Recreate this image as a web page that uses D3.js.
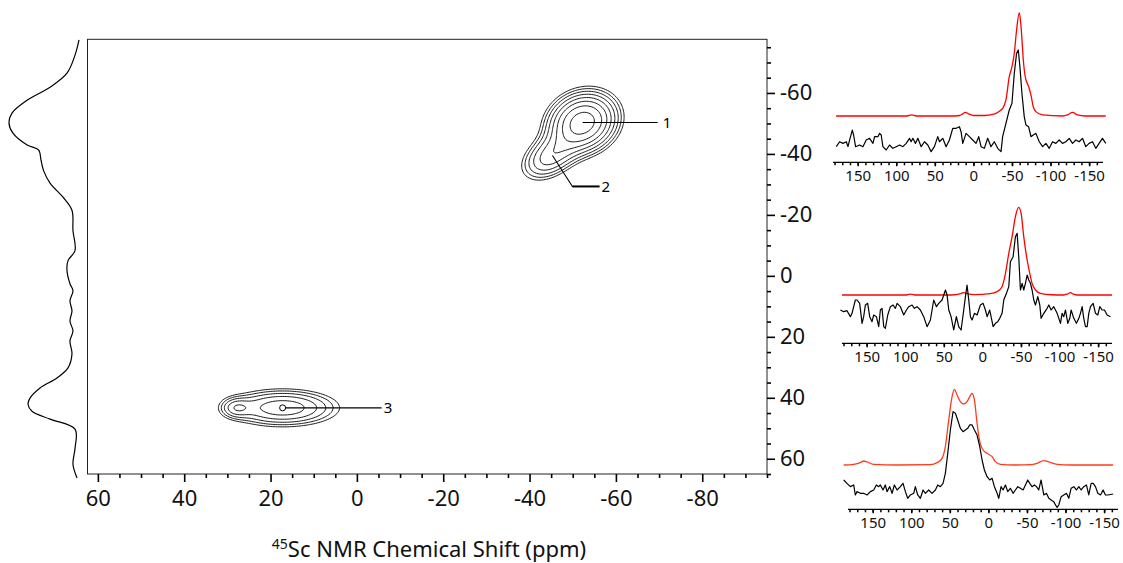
<!DOCTYPE html>
<html><head><meta charset="utf-8">
<script src="https://cdn.jsdelivr.net/npm/d3@7"></script>
<style>
html,body{margin:0;padding:0;background:#fff;}
svg{display:block;font-family:"Noto Sans","Open Sans",sans-serif;}
</style></head><body>
<svg id="chart" width="1123" height="563"></svg>
<script>
// ---------- data ----------
const f2TickValues = [60, 40, 20, 0, -20, -40, -60, -80];
const f1TickValues = [-60, -40, -20, 0, 20, 40, 60];
const sliceTickValues = [150, 100, 50, 0, -50, -100, -150];

// 2D peak components: [F2 ppm, F1 ppm, width F2, width F1, correlation, amplitude]
const peakComponents = [
  [-52.3, -50.3, 4.34, 5.4, 0.15, 1.15],
  [-44.8, -39.2, 3.9, 4.6, 0.4, 0.42],
  [17.2, 43.3, 7.6, 3.6, 0, 0.45],
  [28.0, 43.3, 2.1, 2.0, 0, 0.22]
];
const contourLevels = [0.1, 0.138, 0.19, 0.263, 0.363, 0.5, 0.69, 0.95];

const siteNames = ["1", "2", "3"];
const sitePeaks = [[-52.3, -50.3], [-45.3, -39.5], [17.2, 43.3]];

// F1 projection: [F1 ppm, intensity]
const f1Projection = [
  [-77.4,0],[-72.4,5.6],[-66.5,16.9],[-61.9,40.8],[-57.6,73.2],[-53.4,94.4],[-50.1,98.6],
  [-46.8,93.0],[-42.9,73],[-41.3,57],[-38.0,53.5],[-34.6,50],[-30.4,40.8],[-25.8,22.5],
  [-21.5,9.9],[-14.9,8.5],[-8.3,5.6],[-5.0,15.5],[-1.7,16.9],[2.6,12.7],[4.9,8.5],[8.2,12.7],
  [11.5,9.9],[14.8,12.7],[18.1,8.5],[21.3,12.7],[25.6,9.9],[30.2,15.5],[33.5,31.0],[36.8,54.9],
  [40.1,69.0],[42.1,71.8],[44.4,66.2],[47.0,40.8],[50.3,5.6],[56.6,5.6],[61.8,8.5],[66.3,2.8]
];

// F2 slices: [ppm, intensity]; simulated (red) and experimental (black)
const slice1Sim = [
  [178,0],[120,0],[86,0],[80,1],[74,0],[30,0],[18,0.5],[14,2],[10.4,3.5],[6,2],[0,0.5],[-15,0.5],
  [-25,1.5],[-29.3,2.6],[-35.8,5.8],[-37.9,7.4],[-42.2,15.5],[-46.5,38],[-50,47.7],[-53,60.7],
  [-56,83.3],[-59.5,100],[-62.1,83.3],[-64.7,54.2],[-67.2,38],[-71.6,28.4],[-74.6,20.3],[-77.6,9],
  [-81,4.2],[-89.7,1],[-115.5,0],[-122,1],[-128.5,3.5],[-135,1],[-145,0],[-171.6,0]
];
const slice1Exp = [
  [177.7,-29.7],[173.4,-24.9],[169.1,-26.5],[164.7,-24.9],[162.6,-29.7],[160.4,-23.2],[157,-13.6],
  [155.3,-18.4],[152.7,-29.7],[147.5,-28.1],[143.2,-29.7],[138.9,-23.2],[134.6,-21.6],[130.2,-26.5],
  [128.1,-20],[123.8,-20],[121.6,-16.8],[119.5,-18.4],[117.3,-29.7],[113,-32.9],[108.7,-28.1],
  [104.4,-31.3],[100.1,-29.7],[95.7,-28.1],[91.4,-29.7],[87.1,-26.5],[82.8,-21.6],[80.7,-24.9],
  [78.5,-21.6],[75.1,-26.5],[72,-21.6],[67.7,-29.7],[63.4,-24.9],[59.1,-28.1],[54.8,-34.5],
  [50.5,-29.7],[46.2,-20],[44,-24.9],[39.7,-21.6],[35.4,-29.7],[31.1,-23.2],[26.8,-11.9],
  [22.4,-11.9],[18.1,-10.4],[16,-15.2],[13.8,-26.5],[9.5,-16.8],[5.2,-20],[0.9,-23.2],[-3.4,-26.5],
  [-6.9,-20],[-9.9,-29.7],[-14.2,-31.3],[-18.5,-21.6],[-22.8,-29.7],[-27.1,-24.9],[-31.5,-31.3],
  [-35.8,-34.5],[-37.9,-20],[-42.2,-7.1],[-46.5,5.8],[-50,12.3],[-53,41.3],[-56,60.7],[-58.2,63.9],
  [-60.3,47.7],[-62.9,22],[-65.9,-0.6],[-68.1,-8.7],[-71.6,-10.4],[-74.6,-20],[-77.6,-18.4],
  [-81,-16.8],[-85.4,-24.9],[-89.7,-29.7],[-94,-26.5],[-98.3,-31.3],[-102.6,-24.9],[-106.9,-26.5],
  [-111.2,-23.2],[-115.5,-26.5],[-119.9,-24.9],[-124.2,-21.6],[-128.5,-26.5],[-132.8,-23.2],
  [-137.1,-24.9],[-141.4,-21.6],[-145.7,-29.7],[-150,-26.5],[-154.4,-24.9],[-158.7,-31.3],
  [-163,-26.5],[-167.3,-21.6],[-171.6,-26.5]
];
const slice2Sim = [
  [182,0],[100,0],[93.3,1.1],[86,0],[40,0],[28,1.5],[24.2,2.7],[20,1.5],[10,0.5],[-10,1.5],
  [-19,3.8],[-25.5,9.5],[-29.9,24.7],[-34.2,47.5],[-38.5,66.5],[-42.8,89.4],[-47.1,100],
  [-50.2,93.1],[-53.6,66.5],[-58,39.9],[-61.4,24.7],[-64.4,13.3],[-68.8,5.7],[-75.2,1.9],
  [-90,0.3],[-105.5,0],[-110,1],[-114.2,2.7],[-118,1],[-122.8,0],[-168,0]
];
const slice2Exp = [
  [184.1,-17.1],[179.8,-19],[175.5,-17.9],[171.2,-24.7],[169,-20.9],[164.7,-5.7],[162.5,-5.7],
  [159.1,-9.5],[156,-32.3],[153.9,-24.7],[151.7,-11.4],[148.7,-9.5],[146.1,-24.7],[143.1,-30.4],
  [140.9,-22.8],[137.4,-24.7],[134.4,-36.1],[132.3,-17.1],[130.1,-15.2],[127.9,-36.1],[125.8,-38],
  [122.7,-22.8],[119.3,-13.3],[115.8,-11.4],[112.8,-15.2],[110.6,-9.5],[106.3,-13.3],[102,-22.8],
  [98.5,-17.1],[95.5,-13.3],[91.2,-11.4],[88.2,-15.2],[84.7,-13.3],[80.4,-17.1],[76.1,-24.7],
  [71.7,-36.1],[67.4,-28.5],[63.1,-5.7],[59.6,-13.3],[56.6,-9.5],[52.3,-5.7],[47.9,5.7],[45.8,0],
  [43.6,-17.1],[40.6,-24.7],[37.2,-39.9],[33.7,-24.7],[30.7,-36.1],[27.6,-39.9],[24.2,-17.1],
  [22,-1.9],[19.9,11.4],[17.7,-5.7],[15.5,-24.7],[13.4,-28.5],[10.3,-20.9],[6.9,-22.8],[2.6,-11.4],
  [-0.9,-9.5],[-3.9,-17.1],[-6.1,-24.7],[-9.5,-17.1],[-13.9,-36.1],[-16.9,-32.3],[-19.9,-30.4],
  [-22.5,-26.6],[-25.5,-20.9],[-27.7,-5.7],[-31.2,1.9],[-34.2,9.5],[-36.3,38],[-39.8,43.7],
  [-42.8,66.5],[-45,70.3],[-47.1,43.7],[-49.3,5.7],[-51.5,13.3],[-53.6,5.7],[-55.8,13.3],[-58,22.8],
  [-60.1,17.1],[-62.3,13.3],[-64.4,5.7],[-66.6,-5.7],[-68.8,-11.4],[-71.8,-1.9],[-74.4,-11.4],
  [-76.1,-26.6],[-79.6,-20.9],[-83.9,-15.2],[-86.1,-11.4],[-89.1,-17.1],[-92.5,-13.3],[-96.9,-20.9],
  [-101.2,-32.3],[-103.3,-20.9],[-105.5,-24.7],[-107.7,-17.1],[-110.7,-32.3],[-113.3,-26.6],
  [-115,-17.1],[-118.5,-26.6],[-121.9,-32.3],[-125,-26.6],[-127.1,-20.9],[-129.3,-13.3],
  [-131.4,-26.6],[-133.6,-36.1],[-135.8,-36.1],[-137.9,-20.9],[-140.1,-13.3],[-143.6,-9.5],
  [-146.6,-20.9],[-149.6,-22.8],[-152.2,-13.3],[-155.2,-17.1],[-158.2,-17.1],[-161.7,-22.8],
  [-166,-24.7]
];
const slice3Sim = [
  [187.6,0],[174.6,0.9],[166,3.1],[161.7,5.3],[157.3,4],[148.7,0.9],[118.4,0],[75.2,0.4],[66.6,3.1],
  [60.1,8.8],[55.8,24.2],[51.4,59.5],[47.1,90.3],[44.1,100],[40.6,92.5],[36.3,83.7],[32,80.6],
  [27.7,83.7],[24.2,90.3],[21.2,94.7],[18.1,85.9],[14.7,55.1],[11.2,30.8],[6.9,19.8],[1.7,15.4],
  [-4.8,11],[-9.1,4.4],[-15.6,0.9],[-32.9,0],[-54.5,0.4],[-63.1,2.2],[-71.8,5.7],[-78.3,4],
  [-89.1,0.9],[-106.4,0],[-161.7,0]
];
const slice3Exp = [
  [187.6,-19.8],[183.3,-24.2],[179,-28.6],[174.6,-26.4],[172.5,-39.6],[170.3,-35.2],[166,-37.4],
  [161.7,-37.4],[157.3,-39.6],[153,-35.2],[148.7,-33],[145.2,-26.4],[142.2,-28.6],[140.1,-26.4],
  [136.6,-33],[133.6,-26.4],[131.4,-35.2],[127.9,-28.6],[124.9,-37.4],[121.9,-26.4],[118.4,-33],
  [114.1,-28.6],[110.7,-24.2],[107.6,-35.2],[104.6,-44],[101.1,-39.6],[96.8,-37.4],[94.7,-28.6],
  [91.6,-39.6],[88.2,-44],[84.7,-33],[81.7,-37.4],[77.4,-33],[73.1,-37.4],[68.7,-33],[65.7,-26.4],
  [62.3,-28.6],[58.8,-24.2],[55.8,-11],[52.7,15.4],[49.3,46.2],[45.8,70.5],[42.8,68.3],[39.8,59.5],
  [36.3,48.4],[32.8,44],[29.8,46.2],[26.8,48.4],[24.2,52.9],[21.2,52.9],[18.1,46.2],[14.7,39.6],
  [11.2,24.2],[8.2,6.6],[5.2,-6.6],[1.7,-15.4],[-1.7,-19.8],[-4.8,-17.6],[-7.8,-28.6],[-11.3,-37.4],
  [-13.4,-44],[-16.4,-28.6],[-19,-33],[-22.1,-26.4],[-25.1,-35.2],[-28.5,-30.8],[-32,-37.4],
  [-35,-33],[-38.1,-28.6],[-41.5,-30.8],[-45,-33],[-48,-26.4],[-51,-19.8],[-53.6,-24.2],
  [-56.6,-28.6],[-59.7,-26.4],[-62.3,-28.6],[-65.3,-33],[-68.3,-19.8],[-71.8,-39.6],[-75.2,-37.4],
  [-78.3,-44],[-81.3,-46.2],[-84.7,-48.4],[-86.9,-52.8],[-89.1,-55.9],[-91.2,-52.8],[-94.3,-41.8],
  [-97.7,-39.6],[-101.2,-37.4],[-104.2,-44],[-107.2,-30.8],[-110.7,-28.6],[-114.1,-33],
  [-117.2,-28.6],[-120.2,-33],[-123.6,-28.6],[-127.1,-26.4],[-130.1,-39.6],[-133.2,-24.2],
  [-135.8,-24.2],[-138.8,-28.6],[-141.8,-37.4],[-145.3,-39.6],[-148.7,-33],[-151.7,-39.6],
  [-154.8,-39.6],[-161.7,-38.3]
];

// ---------- layout ----------
const svg = d3.select("#chart");
const frame = {left: 87.5, right: 767, top: 39.3, bottom: 474};
const f2Domain = [62.4, -95];
const f1Domain = [-77.6, 65];
const x = d3.scaleLinear().domain(f2Domain).range([frame.left, frame.right]);
const y = d3.scaleLinear().domain(f1Domain).range([frame.top, frame.bottom]);
const fmt = d => String(d);

// ---------- contour field ----------
const step = 0.4;
const nx = Math.ceil((f2Domain[0] - f2Domain[1]) / step) + 1;
const ny = Math.ceil((f1Domain[1] - f1Domain[0]) / step) + 1;
const field = new Float64Array(nx * ny);
for (let j = 0; j < ny; j++) {
  const p1 = f1Domain[0] + j * step;
  for (let i = 0; i < nx; i++) {
    const p2 = f2Domain[0] - i * step;
    let s = 0;
    for (const [c2, c1, w2, w1, r, a] of peakComponents) {
      const u = (p2 - c2) / w2, v = (p1 - c1) / w1;
      s += a * Math.exp(-(u * u - 2 * r * u * v + v * v) / (2 * (1 - r * r)));
    }
    field[j * nx + i] = s;
  }
}
const contours = d3.contours().size([nx, ny]).thresholds(contourLevels)(field);
const gridToPlot = d3.geoTransform({
  point(gx, gy) {
    this.stream.point(x(f2Domain[0] - (gx - 0.5) * step), y(f1Domain[0] + (gy - 0.5) * step));
  }
});
const contourPath = d3.geoPath(gridToPlot);

const plot = svg.append("g");
plot.append("defs").append("clipPath").attr("id", "frameClip")
  .append("rect").attr("x", frame.left).attr("y", frame.top)
  .attr("width", frame.right - frame.left).attr("height", frame.bottom - frame.top);

plot.append("g").attr("clip-path", "url(#frameClip)")
  .selectAll("path").data(contours).join("path")
  .attr("d", contourPath)
  .attr("fill", "none").attr("stroke", "#000").attr("stroke-width", 0.9)
  .attr("stroke-linejoin", "round");

// frame
plot.append("rect").attr("x", frame.left).attr("y", frame.top)
  .attr("width", frame.right - frame.left).attr("height", frame.bottom - frame.top)
  .attr("fill", "none").attr("stroke", "#222").attr("stroke-width", 1);

// bottom axis (F2)
const f2Minor = d3.range(60, -95.01, -5).filter(v => !f2TickValues.includes(v));
const bottom = plot.append("g").attr("transform", `translate(0,${frame.bottom})`);
bottom.call(d3.axisBottom(x).tickValues(f2Minor).tickSize(4).tickFormat(""))
  .call(g => g.select(".domain").remove());
bottom.append("g").call(d3.axisBottom(x).tickValues(f2TickValues).tickSize(8).tickPadding(8).tickFormat(fmt))
  .call(g => g.select(".domain").remove());
bottom.selectAll("line").attr("stroke", "#000").attr("stroke-width", 1.6);
bottom.selectAll("text").attr("font-size", 22).attr("fill", "#111").attr("font-family", "Noto Sans");

// right axis (F1)
const f1Minor = d3.range(-75, 65.01, 5).filter(v => !f1TickValues.includes(v));
const right = plot.append("g").attr("transform", `translate(${frame.right},0)`);
right.call(d3.axisRight(y).tickValues(f1Minor).tickSize(4).tickFormat(""))
  .call(g => g.select(".domain").remove());
right.append("g").call(d3.axisRight(y).tickValues(f1TickValues).tickSize(8).tickPadding(5).tickFormat(fmt))
  .call(g => g.select(".domain").remove());
right.selectAll("line").attr("stroke", "#000").attr("stroke-width", 1.6);
right.selectAll("text").attr("font-size", 22).attr("fill", "#111").attr("font-family", "Noto Sans");

// axis title
const title = svg.append("text").attr("x", 429).attr("y", 557)
  .attr("text-anchor", "middle").attr("font-size", 22).attr("fill", "#111");
title.append("tspan").attr("font-size", 14).attr("dy", -8).text("45");
title.append("tspan").attr("dy", 8).text("Sc NMR Chemical Shift (ppm)");

// site labels with leader lines
const labels = svg.append("g").attr("stroke", "#000").attr("fill", "none");
{
  const [a2, a1] = sitePeaks[0];
  const px = x(a2), py = y(a1);
  labels.append("line").attr("x1", px).attr("y1", py).attr("x2", px + 75).attr("y2", py).attr("stroke-width", 1.1);
  svg.append("text").attr("x", px + 80).attr("y", py + 5.5).attr("font-size", 15).text(siteNames[0]);
}
{
  const [a2, a1] = sitePeaks[1];
  const px = x(a2), py = y(a1);
  labels.append("polyline")
    .attr("points", `${px},${py} ${px + 20},${py + 31} ${px + 47},${py + 31}`)
    .attr("stroke-width", 1.1);
  labels.append("line").attr("x1", px + 20).attr("y1", py + 31).attr("x2", px + 47).attr("y2", py + 31).attr("stroke-width", 2);
  svg.append("text").attr("x", px + 49).attr("y", py + 36.5).attr("font-size", 15).text(siteNames[1]);
}
{
  const [a2, a1] = sitePeaks[2];
  const px = x(a2), py = y(a1);
  labels.append("circle").attr("cx", px).attr("cy", py).attr("r", 3).attr("stroke-width", 1);
  labels.append("line").attr("x1", px + 3).attr("y1", py).attr("x2", px + 99).attr("y2", py).attr("stroke-width", 1.1);
  svg.append("text").attr("x", px + 101).attr("y", py + 5.5).attr("font-size", 15).text(siteNames[2]);
}

// ---------- F1 projection ----------
const projX = d3.scaleLinear().domain([0, 100]).range([79, 8]);
svg.append("path").datum(f1Projection)
  .attr("d", d3.line().x(d => projX(d[1])).y(d => y(d[0])).curve(d3.curveCatmullRom.alpha(0.5)))
  .attr("fill", "none").attr("stroke", "#000").attr("stroke-width", 1.2);

// ---------- F2 slices ----------
const slices = [
  {sim: slice1Sim, exp: slice1Exp, left: 833, base: 116, top: 12.7, axisY: 162.3, color: "#ff0000"},
  {sim: slice2Sim, exp: slice2Exp, left: 842, base: 295, top: 207.3, axisY: 343.3, color: "#ff0000"},
  {sim: slice3Sim, exp: slice3Exp, left: 848, base: 465, top: 389.3, axisY: 509.3, color: "#ff3a1c"}
];
const sliceDomain = [182, -168];
const sliceTicksMinor = d3.range(180, -168, -10);

slices.forEach(s => {
  const sx = d3.scaleLinear().domain(sliceDomain).range([s.left, s.left + 270]);
  const sy = d3.scaleLinear().domain([0, 100]).range([s.base, s.top]);
  const g = svg.append("g");
  g.append("path")
    .attr("d", d3.line().x(d => sx(d[0])).y(d => sy(d[1])).curve(d3.curveMonotoneX)(s.sim))
    .attr("fill", "none").attr("stroke", s.color).attr("stroke-width", 1.3);
  g.append("path")
    .attr("d", d3.line().x(d => sx(d[0])).y(d => sy(d[1]))(s.exp))
    .attr("fill", "none").attr("stroke", "#000").attr("stroke-width", 1.2).attr("stroke-linejoin", "round");

  const ax = g.append("g").attr("transform", `translate(0,${s.axisY})`);
  ax.call(d3.axisBottom(sx).tickValues(sliceTicksMinor).tickSize(3).tickFormat(""))
    .call(a => a.select(".domain").attr("d", `M${s.left},0H${s.left + 270}`));
  ax.append("g").call(d3.axisBottom(sx).tickValues(sliceTickValues).tickSize(4).tickPadding(4).tickFormat(fmt))
    .call(a => a.select(".domain").remove());
  ax.selectAll("line").attr("stroke", "#000").attr("stroke-width", 1.5);
  ax.selectAll(".domain").attr("stroke", "#000").attr("stroke-width", 1.2);
  ax.selectAll("text").attr("font-size", 15).attr("fill", "#111").attr("font-family", "Noto Sans");
});
</script>
</body></html>
